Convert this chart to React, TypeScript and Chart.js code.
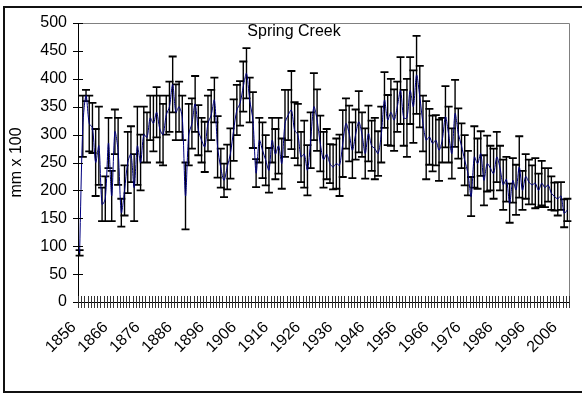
import React, { useEffect, useRef } from "react";
import { Chart, registerables } from "chart.js";

Chart.register(...registerables);

const FIRST_YEAR = 1856;

// Annual values (mm x 100), 1856–2008
const values: number[] = [
  88, 315, 370, 320, 312, 250, 280, 175, 185, 285,
  190, 305, 270, 160, 200, 250, 265, 205, 280, 250,
  300, 295, 330, 320, 340, 310, 300, 335, 350, 390,
  340, 350, 330, 190, 300, 320, 355, 308, 290, 278,
  320, 335, 362, 278, 240, 218, 242, 266, 308, 344,
  356, 386, 410, 362, 326, 231, 290, 272, 254, 236,
  290, 265, 280, 248, 320, 335, 344, 308, 300, 260,
  265, 236, 290, 350, 326, 284, 255, 265, 248, 242,
  248, 245, 284, 320, 302, 272, 300, 323, 300, 266,
  302, 280, 275, 266, 300, 362, 326, 340, 326, 350,
  379, 330, 330, 379, 350, 407, 368, 320, 290, 296,
  284, 290, 272, 290, 332, 300, 266, 338, 302, 280,
  254, 231, 189, 260, 248, 266, 218, 248, 240, 230,
  260, 240, 210, 220, 177, 218, 201, 242, 200, 225,
  215, 210, 213, 200, 213, 205, 210, 195, 189, 185,
  190, 159, 165,
];

// Error bar half-lengths (mm x 100)
const errors: number[] = [
  5, 55, 10, 50, 45, 60, 70, 30, 40, 45,
  45, 40, 60, 25, 45, 55, 50, 60, 70, 50,
  50, 45, 40, 50, 45, 60, 55, 35, 45, 50,
  50, 45, 40, 60, 55, 45, 50, 45, 40, 45,
  50, 45, 40, 55, 35, 30, 40, 45, 55, 45,
  40, 45, 45, 40, 50, 25, 40, 50, 45, 40,
  40, 45, 50, 45, 60, 45, 70, 50, 55, 45,
  60, 45, 50, 60, 55, 50, 50, 45, 35, 40,
  45, 55, 60, 45, 50, 50, 45, 55, 40, 45,
  50, 45, 55, 40, 50, 50, 45, 60, 55, 45,
  60, 50, 70, 60, 65, 70, 55, 50, 70, 50,
  50, 45, 55, 40, 55, 50, 45, 60, 45, 40,
  45, 40, 35, 55, 45, 40, 45, 50, 40, 45,
  45, 40, 45, 40, 35, 40, 45, 55, 35, 40,
  40, 35, 45, 30, 40, 35, 30, 30, 25, 30,
  25, 25, 20,
];

const years: string[] = values.map((_, i) => String(FIRST_YEAR + i));
const LABEL_EVERY = 10;
const Y_MIN = 0;
const Y_MAX = 500;
const Y_STEP = 50;
const CHART_TITLE = "Spring Creek";
const Y_TITLE = "mm x 100";

const FONT = '"Liberation Sans", Arial, sans-serif';

const framePlugin = {
  id: "frame",
  beforeDraw(chart: any) {
    const { ctx } = chart;
    ctx.save();
    ctx.fillStyle = "#fff";
    ctx.fillRect(0, 0, chart.width, chart.height);
    ctx.strokeStyle = "#111";
    ctx.lineWidth = 2;
    ctx.beginPath();
    ctx.moveTo(chart.width + 2, 7);
    ctx.lineTo(4, 7);
    ctx.lineTo(4, 392);
    ctx.lineTo(chart.width + 2, 392);
    ctx.stroke();
    ctx.restore();
  },
  beforeDatasetsDraw(chart: any) {
    const { ctx, chartArea: a, scales } = chart;
    const x = scales.x;
    const y = scales.y;
    ctx.save();
    // grey plot-area border (top and right)
    ctx.strokeStyle = "#808080";
    ctx.lineWidth = 1;
    ctx.beginPath();
    ctx.moveTo(a.left, Math.round(a.top) + 0.5);
    ctx.lineTo(Math.round(a.right) + 0.5, Math.round(a.top) + 0.5);
    ctx.lineTo(Math.round(a.right) + 0.5, a.bottom);
    ctx.stroke();
    // error bars
    ctx.strokeStyle = "#000";
    ctx.lineWidth = 1.4;
    const cap = 4;
    ctx.beginPath();
    values.forEach((v, i) => {
      const px = x.getPixelForValue(i);
      const hi = y.getPixelForValue(v + errors[i]);
      const lo = y.getPixelForValue(v - errors[i]);
      ctx.moveTo(px, hi);
      ctx.lineTo(px, lo);
    });
    ctx.stroke();
    ctx.lineWidth = 1.8;
    ctx.beginPath();
    values.forEach((v, i) => {
      const px = x.getPixelForValue(i);
      const hi = y.getPixelForValue(v + errors[i]);
      const lo = y.getPixelForValue(v - errors[i]);
      ctx.moveTo(px - cap, hi);
      ctx.lineTo(px + cap, hi);
      ctx.moveTo(px - cap, lo);
      ctx.lineTo(px + cap, lo);
    });
    ctx.stroke();
    ctx.restore();
  },
  afterDraw(chart: any) {
    const { ctx, chartArea: a, scales } = chart;
    const x = scales.x;
    const y = scales.y;
    ctx.save();
    ctx.strokeStyle = "#000";
    ctx.lineWidth = 1;
    ctx.beginPath();
    // cross tick marks on y axis
    y.ticks.forEach((_: any, i: number) => {
      const py = Math.round(y.getPixelForTick(i)) + 0.5;
      ctx.moveTo(a.left - 5, py);
      ctx.lineTo(a.left + 5, py);
    });
    ctx.stroke();
    // cross tick marks on x axis at category boundaries
    ctx.strokeStyle = "#333";
    ctx.beginPath();
    for (let k = 0; k <= values.length; k++) {
      const px = Math.round(x.getPixelForValue(k - 0.5)) + 0.5;
      ctx.moveTo(px, a.bottom - 6);
      ctx.lineTo(px, a.bottom + 6);
    }
    ctx.stroke();
    // title inside plot area
    ctx.fillStyle = "#000";
    ctx.font = `16px ${FONT}`;
    ctx.textAlign = "center";
    ctx.textBaseline = "top";
    ctx.fillText(CHART_TITLE, 294, 24);
    ctx.restore();
  },
};

export default function App() {
  const ref = useRef<HTMLCanvasElement | null>(null);
  useEffect(() => {
    if (!ref.current) return;
    const chart = new Chart(ref.current, {
      type: "line",
      data: {
        labels: years,
        datasets: [
          {
            data: values,
            borderColor: "#000080",
            borderWidth: 1,
            pointRadius: 0,
            tension: 0.3,
            fill: false,
          },
        ],
      },
      options: {
        animation: false,
        responsive: false,
        devicePixelRatio: 1,
        layout: { padding: { left: 0, top: 23, right: 13, bottom: 0 } },
        plugins: {
          legend: { display: false },
          tooltip: { enabled: false },
          title: { display: false },
        },
        scales: {
          x: {
            type: "category",
            offset: true,
            grid: { display: false, drawTicks: false },
            border: { display: true, color: "#000", width: 1 },
            ticks: {
              autoSkip: false,
              maxRotation: 45,
              minRotation: 45,
              padding: 16,
              labelOffset: -6,
              color: "#000",
              font: { family: FONT, size: 16 },
              callback: (_v: any, i: number) => (i % LABEL_EVERY === 0 ? years[i] : ""),
            },
            afterFit: (s: any) => {
              s.height = 94;
              s.paddingLeft = 0;
              s.paddingRight = 0;
            },
          },
          y: {
            min: Y_MIN,
            max: Y_MAX,
            grid: { display: false, drawTicks: false },
            border: { display: true, color: "#000", width: 1 },
            ticks: {
              stepSize: Y_STEP,
              padding: 11,
              color: "#000",
              font: { family: FONT, size: 16 },
            },
            title: {
              display: true,
              text: Y_TITLE,
              color: "#000",
              font: { family: FONT, size: 16 },
              padding: { top: 7, bottom: 0 },
            },
            afterFit: (s: any) => {
              s.width = 78;
              s.paddingTop = 0;
              s.paddingBottom = 0;
            },
          },
        },
      },
      plugins: [framePlugin],
    });
    return () => chart.destroy();
  }, []);
  return (
    <div style={{ position: "absolute", left: 0, top: 0, width: 582, height: 396, background: "#fff" }}>
      <canvas ref={ref} width={582} height={396} />
    </div>
  );
}
